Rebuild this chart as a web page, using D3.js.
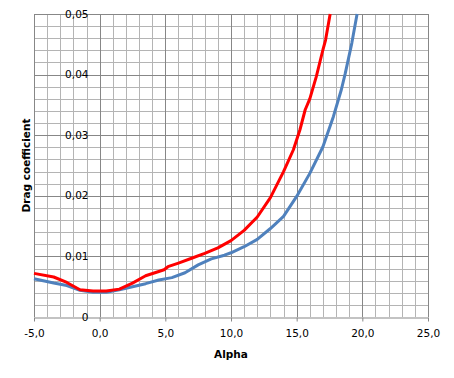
<!DOCTYPE html>
<html>
<head>
<meta charset="utf-8">
<script src="https://cdn.jsdelivr.net/npm/d3@7"></script>
<style>
  body { margin: 0; background: #fff; }
  text { font-family: "DejaVu Sans", Verdana, sans-serif; }
</style>
</head>
<body>
<div id="chart"></div>
<script>
// data
var redAlpha = [-5, -3.5, -2.5, -1.5, -0.5, 0.5, 1.5, 2.5, 3.5, 4.5, 4.9, 5.2, 6, 7, 8, 9, 10, 11, 12, 13, 14, 14.75, 15.25, 15.65, 16, 16.5, 17, 17.2, 17.55];
var redCd = [0.0072, 0.0066, 0.0057, 0.0045, 0.0043, 0.0043, 0.0046, 0.0056, 0.0068, 0.0075, 0.0078, 0.0083, 0.0089, 0.0097, 0.0105, 0.0114, 0.0126, 0.0143, 0.0165, 0.0197, 0.0240, 0.0276, 0.0309, 0.0342, 0.0360, 0.0397, 0.0441, 0.0457, 0.0500];
var blueAlpha = [-5, -3.5, -2.5, -1.5, -0.5, 0.5, 1.5, 2.5, 3.5, 4.5, 5.5, 6.5, 7.5, 8.5, 9.5, 10, 11, 12, 13, 14, 15, 16, 17, 17.8, 18.4, 18.7, 19.2, 19.6];
var blueCd = [0.0063, 0.0056, 0.0052, 0.0044, 0.0041, 0.0041, 0.0045, 0.0050, 0.0055, 0.0061, 0.0065, 0.0073, 0.0086, 0.0096, 0.0102, 0.0106, 0.0116, 0.0128, 0.0146, 0.0166, 0.0199, 0.0237, 0.0281, 0.0331, 0.0375, 0.0402, 0.0452, 0.0500];
var xTicks = [-5, 0, 5, 10, 15, 20, 25];
var yTicks = [0, 0.01, 0.02, 0.03, 0.04, 0.05];

var W = 454, H = 378;
var margin = {top: 14, right: 26, bottom: 61, left: 34},
    width = W - margin.left - margin.right,
    height = H - margin.top - margin.bottom;

var svg = d3.select("#chart").append("svg")
  .attr("width", W).attr("height", H)
  .append("g")
  .attr("transform", "translate(" + margin.left + "," + margin.top + ")");

var x = d3.scaleLinear().domain([-5, 25]).range([0, width]);
var y = d3.scaleLinear().domain([0, 0.05]).range([height, 0]);

// minor grid
svg.append("g").selectAll("line")
  .data(d3.range(-4, 25, 1).filter(function(d){ return d % 5 != 0; }))
  .enter().append("line")
  .attr("x1", function(d){ return Math.round(x(d)) + 0.5; })
  .attr("x2", function(d){ return Math.round(x(d)) + 0.5; })
  .attr("y1", 0).attr("y2", height)
  .attr("stroke", "#b4b4b4");
svg.append("g").selectAll("line")
  .data(d3.range(1, 25).filter(function(d){ return d % 5 != 0; }))
  .enter().append("line")
  .attr("x1", 0).attr("x2", width)
  .attr("y1", function(d){ return Math.round(y(d * 0.002)) + 0.5; })
  .attr("y2", function(d){ return Math.round(y(d * 0.002)) + 0.5; })
  .attr("stroke", "#b4b4b4");

// major grid
svg.append("g").selectAll("line")
  .data(xTicks.slice(1))
  .enter().append("line")
  .attr("x1", function(d){ return Math.round(x(d)) + 0.5; })
  .attr("x2", function(d){ return Math.round(x(d)) + 0.5; })
  .attr("y1", 0).attr("y2", height)
  .attr("stroke", "#878787");
svg.append("g").selectAll("line")
  .data(yTicks.slice(1))
  .enter().append("line")
  .attr("x1", 0).attr("x2", width)
  .attr("y1", function(d){ return Math.round(y(d)) + 0.5; })
  .attr("y2", function(d){ return Math.round(y(d)) + 0.5; })
  .attr("stroke", "#878787");

// axes (comma decimals, plain hyphen for minus)
var fmtX = function(d){ return d.toFixed(1).replace(".", ","); };
var fmtY = function(d){ return d == 0 ? "0" : d.toFixed(2).replace(".", ","); };

var xAxis = svg.append("g")
  .attr("transform", "translate(0," + (Math.round(height) + 0.5) + ")")
  .call(d3.axisBottom(x).tickValues(xTicks).tickFormat(fmtX).tickSize(4).tickPadding(8).tickSizeOuter(0));
xAxis.select(".domain").attr("stroke", "#878787");
xAxis.selectAll(".tick line").attr("stroke", "#878787");
xAxis.selectAll("text").attr("font-size", "10.5px").attr("fill", "#000")
  .attr("font-family", "DejaVu Sans, Verdana, sans-serif");

svg.append("line")
  .attr("x1", 0.5).attr("x2", 0.5).attr("y1", 0).attr("y2", height)
  .attr("stroke", "#878787");

// y labels sit inside the plot, as in the reference
svg.append("g").selectAll("text")
  .data(yTicks)
  .enter().append("text")
  .attr("x", 54.5)
  .attr("y", function(d){ return y(d); })
  .attr("dy", "0.35em")
  .attr("text-anchor", "end")
  .attr("font-size", "10.5px")
  .text(fmtY);

// curves
var line = d3.line()
  .x(function(d){ return x(d[0]); })
  .y(function(d){ return y(d[1]); })
  .curve(d3.curveLinear);

svg.append("path")
  .datum(d3.zip(blueAlpha, blueCd))
  .attr("d", line)
  .attr("fill", "none")
  .attr("stroke", "#4f81bd")
  .attr("stroke-width", 3)
  .attr("stroke-linejoin", "round");

svg.append("path")
  .datum(d3.zip(redAlpha, redCd))
  .attr("d", line)
  .attr("fill", "none")
  .attr("stroke", "#ff0000")
  .attr("stroke-width", 3)
  .attr("stroke-linejoin", "round");

// axis titles
svg.append("text")
  .attr("x", x(10))
  .attr("y", height + 41)
  .attr("text-anchor", "middle")
  .attr("font-size", "10.5px")
  .attr("font-weight", "bold")
  .text("Alpha");

svg.append("text")
  .attr("transform", "rotate(-90)")
  .attr("x", -height / 2)
  .attr("y", -4)
  .attr("text-anchor", "middle")
  .attr("font-size", "10.5px")
  .attr("font-weight", "bold")
  .text("Drag coefficient");
</script>
</body>
</html>
